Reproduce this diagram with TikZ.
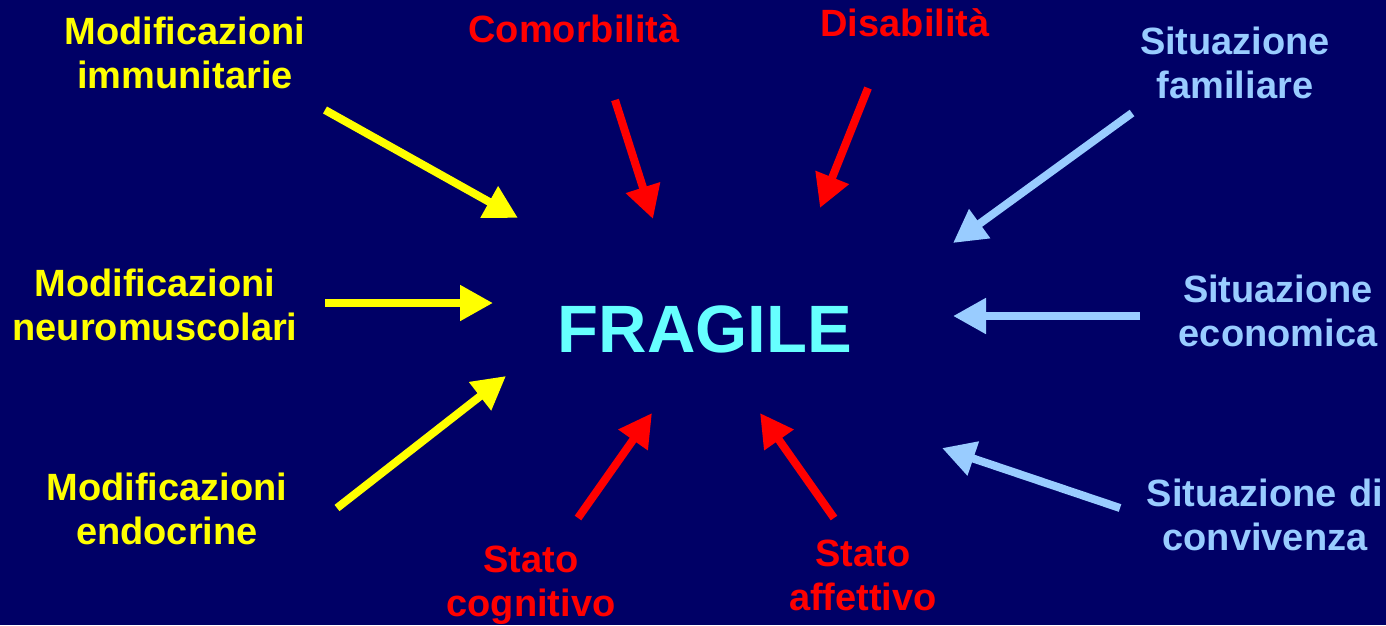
\documentclass[tikz,border=0pt]{standalone}
\usepackage{fontspec}
\setmainfont{Liberation Sans}
\usetikzlibrary{arrows.meta}
\definecolor{bg}{RGB}{0,0,102}
\definecolor{yel}{RGB}{255,255,0}
\definecolor{rd}{RGB}{255,0,0}
\definecolor{lb}{RGB}{153,204,255}
\definecolor{cy}{RGB}{102,255,255}
\tikzset{
  lbl/.style={anchor=base, inner sep=0pt, text width=420pt, align=center,
    font=\fontsize{38}{44}\selectfont\bfseries},
  arr/.style={line width=8pt, -{Triangle[length=33pt,width=34pt]}, shorten >=0pt},
}
\begin{document}
\begin{tikzpicture}[x=1pt,y=-1pt]
\fill[bg] (0,0) rectangle (1386,625);
\useasboundingbox (0,0) rectangle (1386,625);
% labels
\node[lbl, text=yel] (imm) at (185,44) {Modificazioni\\immunitarie};
\node[lbl, text=yel] (neu) at (155,296) {Modificazioni\\neuromuscolari};
\node[lbl, text=yel] (endo) at (167,500) {Modificazioni\\endocrine};
\node[lbl, text=rd] (com) at (574,42) {Comorbilità};
\node[lbl, text=rd] (dis) at (905,36) {Disabilità};
\node[lbl, text=rd] (cog) at (531,572) {Stato\\cognitivo};
\node[lbl, text=rd] (aff) at (863,566) {Stato\\affettivo};
\node[lbl, text=lb] (fam) at (1235,54) {Situazione\\familiare};
\node[lbl, text=lb] (eco) at (1278,302) {Situazione\\economica};
\node[lbl, text=lb] (conv) at (1265,506) {Situazione di\\convivenza};
\node[anchor=base, inner sep=0pt, text=cy, font=\fontsize{67}{80}\selectfont\bfseries] (frag) at (705,352) {FRAGILE};
% arrow end points
\coordinate (imm-a) at (325,110); \coordinate (imm-b) at (518,218);
\coordinate (neu-a) at (325,303); \coordinate (neu-b) at (493,303);
\coordinate (endo-a) at (337,508); \coordinate (endo-b) at (506,376);
\coordinate (com-a) at (615,100); \coordinate (com-b) at (653,219);
\coordinate (dis-a) at (868,88); \coordinate (dis-b) at (820,208);
\coordinate (cog-a) at (578,518); \coordinate (cog-b) at (652,413);
\coordinate (aff-a) at (834,518); \coordinate (aff-b) at (760,413);
\coordinate (fam-a) at (1132,113); \coordinate (fam-b) at (953,243);
\coordinate (eco-a) at (1140,316); \coordinate (eco-b) at (953,316);
\coordinate (conv-a) at (1120,508); \coordinate (conv-b) at (942,448);
% arrows
\draw[arr, yel] (imm-a) -- (imm-b);
\draw[arr, yel] (neu-a) -- (neu-b);
\draw[arr, yel] (endo-a) -- (endo-b);
\draw[arr, rd] (com-a) -- (com-b);
\draw[arr, rd] (dis-a) -- (dis-b);
\draw[arr, rd] (cog-a) -- (cog-b);
\draw[arr, rd] (aff-a) -- (aff-b);
\draw[arr, lb] (fam-a) -- (fam-b);
\draw[arr, lb] (eco-a) -- (eco-b);
\draw[arr, lb] (conv-a) -- (conv-b);
\end{tikzpicture}
\end{document}
